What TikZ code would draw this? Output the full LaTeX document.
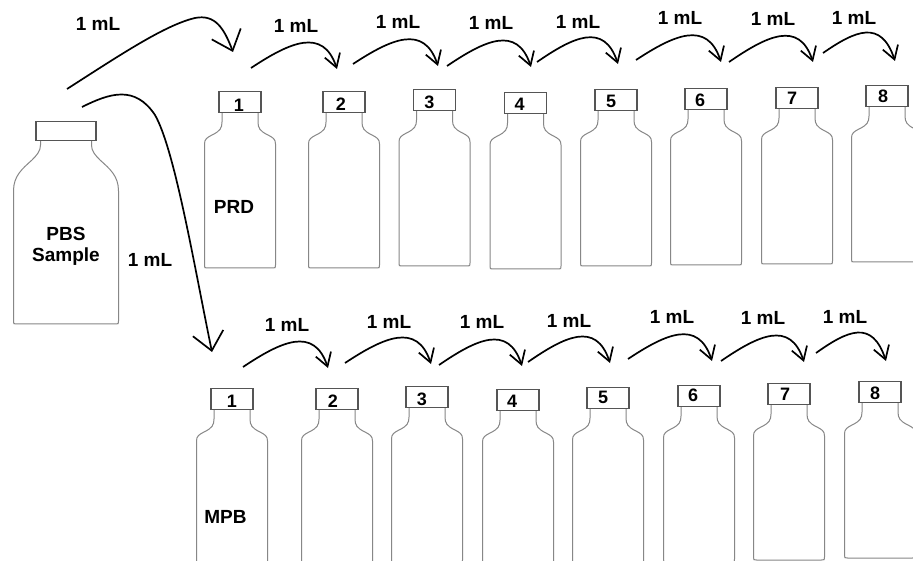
\documentclass[tikz,border=0pt]{standalone}
\usepackage{fontspec}
\setmainfont{Liberation Sans}
\usetikzlibrary{arrows.meta,calc}
\definecolor{capgray}{RGB}{85,85,85}
\definecolor{bodygray}{RGB}{135,135,135}
\tikzset{
  capbox/.style={draw=capgray, fill=white, line width=1.1pt, minimum width=42pt, minimum height=21pt, inner sep=0pt, anchor=north},
  bodyline/.style={draw=bodygray, line width=1pt},
  lbl/.style={font=\bfseries\fontsize{19}{22}\selectfont, inner sep=0pt},
  num/.style={font=\bfseries\fontsize{18}{20}\selectfont, inner sep=0pt},
  arr/.style={line width=1.7pt, -{Straight Barb[length=13pt,width=16pt]}},
  bigarr/.style={line width=1.7pt, -{Straight Barb[length=18pt,width=31pt]}},
}
\newcommand\vial[6]{%
  \begin{scope}[shift={(#2,#3)}]
    \draw[bodyline] (-18,21) -- (-18,31) .. controls (-18,37) and (-20,40) .. (-27,43.5) .. controls (-33,46.5) and (-35.5,48) .. (-35.5,53) -- (-35.5,174) .. controls (-35.5,177) .. (-32.5,177) -- (32.5,177) .. controls (35.5,177) .. (35.5,174) -- (35.5,53) .. controls (35.5,48) and (33,46.5) .. (27,43.5) .. controls (20,40) and (18,37) .. (18,31) -- (18,21);
    \node[capbox] (#1cap) at (0,0) {};
    \node[num] (#1num) at (#5,#6) {#4};
  \end{scope}
}
\newcommand\hop[7]{%
  \coordinate (#1s) at (#2,#3);
  \coordinate (#1e) at (#4,#5);
  \draw[arr] (#1s) .. controls ($(#1s)!0.45!(#1e)+(0,-26)$) and ($(#1e)+(-14,-42)$) .. (#1e);
  \node[lbl] (#1l) at (#6,#7) {1 mL};
}
\begin{document}
\begin{tikzpicture}[x=1pt,y=-1pt]
\useasboundingbox (0,0) rectangle (913,561);
\fill[white] (0,0) rectangle (913,561);
\clip (0,0) rectangle (913,561);

% PBS sample bottle
\begin{scope}[shift={(66,121)}]
  \draw[bodyline] (-25.5,19) -- (-25.5,24) .. controls (-25.5,30) and (-29,34) .. (-34,39) .. controls (-44,48) and (-52.5,55) .. (-52.5,70) -- (-52.5,200) .. controls (-52.5,203) .. (-49.5,203) -- (49.5,203) .. controls (52.5,203) .. (52.5,200) -- (52.5,70) .. controls (52.5,55) and (44,48) .. (34,39) .. controls (29,34) and (25.5,30) .. (25.5,24) -- (25.5,19);
  \node[draw=capgray, fill=white, line width=1.1pt, minimum width=60pt, minimum height=19pt, inner sep=0pt, anchor=north] (pbscap) at (0,0) {};
\end{scope}
\node[lbl, anchor=base] (pbs1) at (66,241) {PBS};
\node[lbl, anchor=base] (pbs2) at (66,262) {Sample};

% top row (PRD)
\vial{t1}{240}{91}{1}{-1}{14.5}
\vial{t2}{344}{91}{2}{-3}{13.5}
\vial{t3}{434.5}{89}{3}{-5}{13.5}
\vial{t4}{525.5}{92}{4}{-6}{12}
\vial{t5}{616}{89}{5}{-5}{12}
\vial{t6}{706}{88}{6}{-6}{12}
\vial{t7}{797}{87}{7}{-5}{11.5}
\vial{t8}{887}{85}{8}{-4}{11.5}
\node[lbl] (prd) at (234,206.5) {PRD};

% bottom row (MPB)
\vial{b1}{232}{388}{1}{0}{13.5}
\vial{b2}{337}{388}{2}{-4}{13}
\vial{b3}{427}{386}{3}{-5}{13.5}
\vial{b4}{518}{389}{4}{-6}{12}
\vial{b5}{608}{387}{5}{-5}{10.5}
\vial{b6}{699}{385}{6}{-6}{10.5}
\vial{b7}{789}{383}{7}{-4}{11.5}
\vial{b8}{880}{381}{8}{-5}{12}
\node[lbl] (mpb) at (225.5,516.5) {MPB};

% transfer arrows, top row
\hop{t12}{251}{68}{337}{69}{296}{26}
\hop{t23}{353}{64}{438}{66}{398}{22}
\hop{t34}{447}{66}{531}{67}{491}{23}
\hop{t45}{537}{62}{618}{64}{578}{22}
\hop{t56}{636}{60}{721}{62}{680}{18}
\hop{t67}{729}{62}{813}{62}{773}{19}
\hop{t78}{823}{53}{895}{61}{854}{18}

% transfer arrows, bottom row
\hop{b12}{243}{367}{328}{368}{287}{325}
\hop{b23}{345}{363}{431}{364}{389}{322}
\hop{b34}{439}{365}{522}{366}{482}{322}
\hop{b45}{528}{362}{610}{363}{569}{321}
\hop{b56}{628}{359}{712}{361}{672}{317}
\hop{b67}{721}{361}{804}{362}{763}{318}
\hop{b78}{816}{353}{886}{361}{845}{317}

% big arrows from the sample
\coordinate (bigAs) at (67,89);
\coordinate (bigAm) at (195,18);
\coordinate (bigAe) at (233,52);
\draw[bigarr] (bigAs) .. controls (120,55) and (165,25) .. (bigAm) .. controls (215,14) and (224,28) .. (bigAe);
\node[lbl] (lA) at (98,24) {1 mL};

\coordinate (bigBs) at (82,107);
\coordinate (bigBm) at (155,115);
\coordinate (bigBe) at (212,352);
\draw[bigarr] (bigBs) .. controls (110,93) and (135,85) .. (bigBm) .. controls (175,150) and (195,270) .. (bigBe);
\node[lbl] (lB) at (150,260) {1 mL};
\end{tikzpicture}
\end{document}
